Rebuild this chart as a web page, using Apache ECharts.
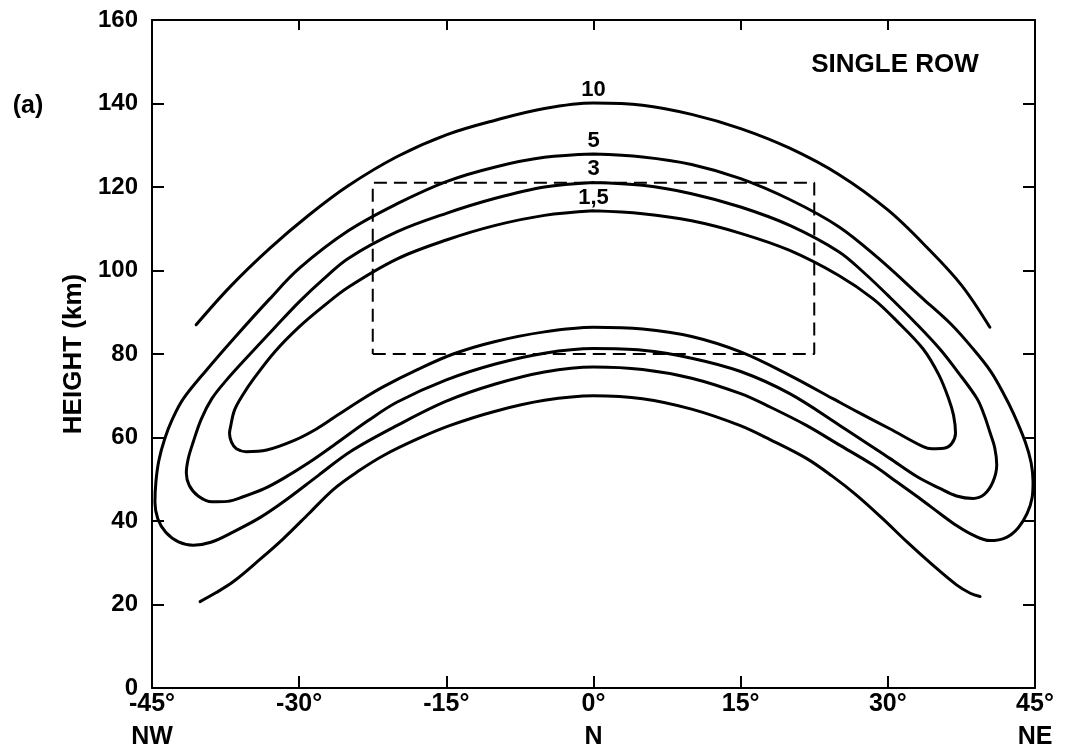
<!DOCTYPE html>
<html>
<head>
<meta charset="utf-8">
<title>Single row</title>
<script src="https://cdn.jsdelivr.net/npm/echarts@6/dist/echarts.min.js"></script>
<style>
  html, body { margin: 0; padding: 0; background: #fff; }
  #chart { width: 1075px; height: 754px; }
</style>
</head>
<body>
<div id="chart"></div>
<script>
// Azimuth (degrees) and height (km) along each contour, as [x, y] pairs.
const contour10Upper = [[-40.5,87.0],[-37.0,96.2],[-33.0,105.3],[-29.0,113.3],[-25.0,120.3],[-20.0,127.3],[-15.0,132.5],[-10.0,136.0],[-5.0,138.8],[0.0,140.1],[5.0,139.6],[10.0,137.4],[15.0,134.0],[20.0,129.3],[25.0,123.0],[30.0,114.5],[34.0,105.5],[37.5,96.5],[40.4,86.4]];
const contour10Lower = [[-40.1,20.7],[-38.5,22.8],[-36.7,25.5],[-34.0,30.8],[-31.6,35.8],[-29.0,41.8],[-26.5,47.6],[-24.0,51.9],[-21.4,55.7],[-18.0,59.6],[-14.6,62.9],[-10.0,66.3],[-5.0,68.9],[0.0,70.0],[5.0,69.3],[10.0,66.8],[14.9,62.9],[18.0,59.5],[21.7,55.0],[24.3,50.8],[26.8,46.2],[29.5,40.5],[31.9,35.1],[34.5,29.6],[37.0,24.7],[38.4,22.7],[39.4,21.9]];
const contour5 = [[0.0,127.9],[5.0,127.2],[10.0,125.4],[15.0,122.0],[20.0,117.0],[25.0,110.5],[29.0,103.0],[33.6,93.2],[36.5,87.0],[38.7,81.2],[40.5,75.8],[41.8,70.5],[42.8,65.8],[44.0,59.0],[44.6,54.0],[44.8,49.4],[44.7,45.5],[44.2,41.8],[43.3,38.4],[42.1,36.1],[40.4,35.3],[38.7,36.6],[37.0,38.9],[35.3,41.8],[33.6,44.8],[31.0,49.2],[28.5,53.4],[25.0,58.3],[21.7,62.9],[18.0,67.3],[15.0,70.5],[10.0,74.2],[5.0,76.3],[0.0,76.9],[-5.0,75.7],[-10.0,72.8],[-15.0,68.7],[-20.0,62.9],[-24.8,56.6],[-28.0,51.0],[-31.6,44.6],[-34.0,40.8],[-36.7,37.4],[-39.0,34.9],[-40.8,34.2],[-42.3,35.0],[-43.6,37.3],[-44.4,40.5],[-44.7,44.5],[-44.6,49.4],[-44.3,54.5],[-43.7,59.7],[-42.9,64.5],[-41.8,69.3],[-39.5,76.0],[-36.7,83.6],[-33.0,93.2],[-30.0,100.5],[-25.0,109.5],[-20.0,116.0],[-15.0,121.3],[-10.0,124.8],[-5.0,127.1],[0.0,127.9]];
const contour3 = [[0.0,121.1],[5.0,120.4],[10.0,118.4],[15.0,115.2],[20.0,110.8],[25.0,104.5],[27.6,99.4],[30.2,93.6],[32.8,87.5],[35.3,81.2],[37.2,75.5],[39.1,69.3],[39.8,65.5],[40.4,61.3],[40.9,57.5],[41.1,53.4],[40.7,49.3],[39.8,46.3],[38.7,45.4],[37.0,46.0],[35.3,47.8],[33.0,50.6],[30.2,55.0],[25.1,62.9],[20.0,70.5],[15.0,75.8],[10.0,79.0],[5.0,80.9],[0.0,81.3],[-5.0,80.2],[-10.0,77.6],[-15.0,73.8],[-20.0,68.5],[-23.0,64.0],[-26.5,58.1],[-29.0,54.0],[-31.6,50.2],[-33.5,47.8],[-35.7,45.8],[-37.3,44.7],[-38.9,44.6],[-40.3,46.0],[-41.2,48.5],[-41.5,51.5],[-41.3,55.0],[-40.8,58.9],[-40.0,64.3],[-38.9,69.3],[-37.5,73.5],[-35.0,80.0],[-32.5,86.3],[-30.0,92.5],[-27.5,98.0],[-25.0,102.9],[-20.0,109.3],[-15.0,113.7],[-10.0,117.3],[-5.0,120.0],[0.0,121.1]];
const contour15 = [[0.0,114.3],[5.0,113.6],[10.0,111.9],[15.0,108.9],[20.0,104.8],[25.0,98.8],[28.5,93.2],[31.0,87.7],[33.6,81.2],[35.2,75.0],[36.2,69.3],[36.7,65.3],[36.9,61.0],[36.5,58.5],[35.7,57.4],[34.5,57.3],[33.6,57.8],[30.2,62.1],[27.0,66.0],[24.4,69.3],[20.0,74.9],[15.0,80.5],[10.0,84.2],[5.0,86.0],[0.0,86.4],[-5.0,85.3],[-10.0,83.0],[-14.3,80.0],[-18.0,76.2],[-21.4,72.2],[-23.5,69.3],[-26.0,65.5],[-28.2,62.1],[-30.5,59.3],[-33.3,57.0],[-35.4,56.6],[-36.4,57.3],[-36.9,58.9],[-37.1,61.0],[-37.0,62.5],[-36.6,66.5],[-35.8,70.0],[-34.5,74.5],[-32.5,80.5],[-30.0,86.5],[-27.5,91.5],[-25.0,96.0],[-20.0,102.8],[-15.0,107.3],[-10.0,110.8],[-5.0,113.2],[0.0,114.3]];

// Contour level names
const levelNames = ['10', '5', '3', '1,5'];

// Dashed viewing box: azimuth span and height span
const boxX = [-22.5, 22.5];
const boxY = [80, 121];

// Axis ticks and compass points
const xTickStep = 15;
const yTickStep = 20;
const compassAzimuths = [-45, 0, 45];
const compassNames = ['NW', 'N', 'NE'];

const FONT = '"Liberation Sans", Arial, sans-serif';
const INK = '#000';

function peakHeight(points) {
  return points.reduce((m, p) => Math.max(m, p[1]), -Infinity);
}

function boxPath() {
  return [
    [boxX[0], boxY[0]], [boxX[1], boxY[0]], [boxX[1], boxY[1]],
    [boxX[0], boxY[1]], [boxX[0], boxY[0]]
  ];
}

function contourSeries(name, points, label) {
  const s = {
    name: name,
    type: 'line',
    data: points,
    smooth: 0.35,
    showSymbol: false,
    symbol: 'none',
    lineStyle: { color: INK, width: 3, cap: 'round', join: 'round' },
    silent: true,
    z: 3
  };
  if (label) {
    s.markPoint = {
      symbol: 'circle',
      symbolSize: 0,
      silent: true,
      data: [{ coord: [0, peakHeight(points)] }],
      label: {
        show: true,
        formatter: label,
        position: 'top',
        distance: 2,
        color: INK,
        fontFamily: FONT,
        fontWeight: 'bold',
        fontSize: 22
      }
    };
  }
  return s;
}

const chart = echarts.init(document.getElementById('chart'), null, { renderer: 'canvas' });

chart.setOption({
  backgroundColor: '#fff',
  animation: false,
  grid: { left: 152, right: 40, top: 20, bottom: 64, containLabel: false },
  xAxis: [
    {
      type: 'value',
      min: -45, max: 45, interval: xTickStep,
      position: 'bottom',
      axisLine: { show: true, onZero: false, lineStyle: { color: INK, width: 2 } },
      axisTick: { show: true, inside: true, length: 12, lineStyle: { color: INK, width: 2 } },
      splitLine: { show: false },
      axisLabel: {
        margin: 0,
        color: INK,
        fontFamily: FONT,
        fontWeight: 'bold',
        fontSize: 25,
        lineHeight: 33,
        formatter: function (v) {
          const i = compassAzimuths.indexOf(v);
          return v + '°' + (i >= 0 ? '\n' + compassNames[i] : '');
        }
      }
    },
    {
      type: 'value',
      min: -45, max: 45, interval: xTickStep,
      position: 'top',
      axisLine: { show: true, onZero: false, lineStyle: { color: INK, width: 2 } },
      axisTick: { show: true, inside: true, length: 10, lineStyle: { color: INK, width: 2 } },
      splitLine: { show: false },
      axisLabel: { show: false }
    }
  ],
  yAxis: [
    {
      type: 'value',
      min: 0, max: 160, interval: yTickStep,
      position: 'left',
      name: 'HEIGHT (km)',
      nameLocation: 'middle',
      nameGap: 64,
      nameTextStyle: { color: INK, fontFamily: FONT, fontWeight: 'bold', fontSize: 26 },
      axisLine: { show: true, onZero: false, lineStyle: { color: INK, width: 2 } },
      axisTick: { show: true, inside: true, length: 12, lineStyle: { color: INK, width: 2 } },
      splitLine: { show: false },
      axisLabel: {
        margin: 14,
        color: INK,
        fontFamily: FONT,
        fontWeight: 'bold',
        fontSize: 24
      }
    },
    {
      type: 'value',
      min: 0, max: 160, interval: yTickStep,
      position: 'right',
      axisLine: { show: true, onZero: false, lineStyle: { color: INK, width: 2 } },
      axisTick: { show: true, inside: true, length: 12, lineStyle: { color: INK, width: 2 } },
      splitLine: { show: false },
      axisLabel: { show: false }
    }
  ],
  graphic: [
    {
      type: 'text',
      x: 28, y: 106,
      style: {
        text: '(a)',
        fill: INK,
        font: 'bold 25px ' + FONT,
        textAlign: 'center',
        textVerticalAlign: 'middle'
      }
    },
    {
      type: 'text',
      x: 895, y: 65,
      style: {
        text: 'SINGLE ROW',
        fill: INK,
        font: 'bold 26px ' + FONT,
        textAlign: 'center',
        textVerticalAlign: 'middle'
      }
    }
  ],
  series: [
    contourSeries('10 upper', contour10Upper, levelNames[0]),
    contourSeries('10 lower', contour10Lower, null),
    contourSeries('5', contour5, levelNames[1]),
    contourSeries('3', contour3, levelNames[2]),
    contourSeries('1,5', contour15, levelNames[3]),
    {
      name: 'box',
      type: 'line',
      data: boxPath(),
      showSymbol: false,
      symbol: 'none',
      silent: true,
      lineStyle: { color: INK, width: 2, type: [13, 7] },
      z: 2
    }
  ]
});
</script>
</body>
</html>
